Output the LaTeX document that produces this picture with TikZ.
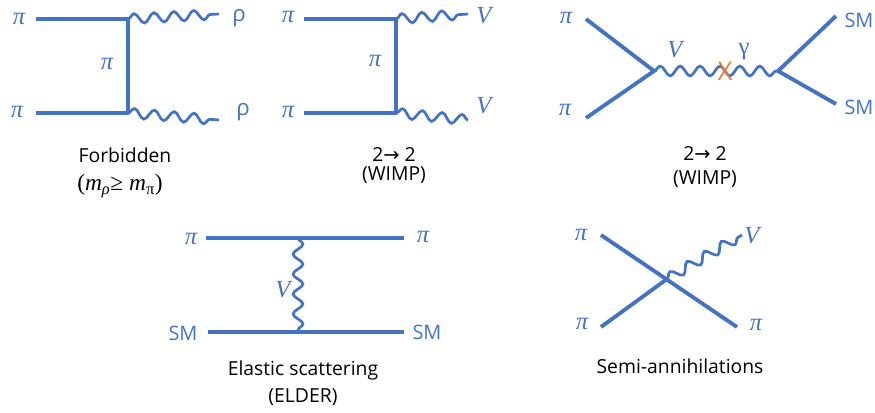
\documentclass[tikz,border=0pt]{standalone}
\usepackage{fontspec}
\setmainfont{Open Sans}
\newfontfamily\symfont{DejaVu Sans}
\newfontfamily\labfont{Liberation Serif}
\usetikzlibrary{decorations.pathmorphing}
\definecolor{LineBlue}{HTML}{4472C4}
\definecolor{CrossOrange}{HTML}{ED7D31}
\begin{document}
\begin{tikzpicture}[x=.03cm,y=-.03cm,
    fermion/.style={draw=LineBlue,line width=3.3pt},
    boson/.style={draw=LineBlue,line width=2.3pt,decorate,decoration={snake,amplitude=4.2pt,segment length=17pt}},
    partlabel/.style={text=LineBlue,font=\fontsize{17}{20}\selectfont,inner sep=0pt},
    mathlabel/.style={text=LineBlue,font=\labfont\itshape\fontsize{21}{24}\selectfont,inner sep=0pt},
    caption/.style={text=black,font=\fontsize{16.5}{20}\selectfont,inner sep=0pt}]
    \useasboundingbox (0,0) rectangle (875,412);
    % forbidden box
    \coordinate (fa) at (36,19);
    \coordinate (fb) at (36,113);
    \coordinate (fc) at (128,19);
    \coordinate (fd) at (128,113);
    \coordinate (fe) at (219,14);
    \coordinate (ff) at (219,120);
    \draw[fermion] (fa)--(fc);
    \draw[fermion] (fb)--(fd);
    \draw[fermion,line cap=round] (fc)--(fd);
    \draw[boson] (fc)--(fe);
    \draw[boson] (fd)--(ff);
    \node[mathlabel] (fl1) at (19,19) {π};
    \node[mathlabel] (fl2) at (17,112) {π};
    \node[mathlabel] (fl3) at (107,64) {π};
    \node[partlabel,font=\fontsize{19}{20}\selectfont] (fl4) at (239,18) {ρ};
    \node[partlabel,font=\fontsize{19}{20}\selectfont] (fl5) at (243,112) {ρ};
    \node[caption] (fcap1) at (125,155) {Forbidden};
    \node[caption,font=\labfont\fontsize{20}{24}\selectfont] (fcap2) at (120,186) {({\itshape m}\textsubscript{\itshape ρ}≥ {\itshape m}\textsubscript{π})};
    % wimp box
    \coordinate (wa) at (304,19);
    \coordinate (wb) at (304,113);
    \coordinate (wc) at (396,19);
    \coordinate (wd) at (396,113);
    \coordinate (we) at (468,14);
    \coordinate (wf) at (468,120);
    \draw[fermion] (wa)--(wc);
    \draw[fermion] (wb)--(wd);
    \draw[fermion,line cap=round] (wc)--(wd);
    \draw[boson] (wc)--(we);
    \draw[boson] (wd)--(wf);
    \node[mathlabel] (wl1) at (288,17) {π};
    \node[mathlabel] (wl2) at (288,112) {π};
    \node[mathlabel] (wl3) at (375,61) {π};
    \node[mathlabel] (wl4) at (484,16) {V};
    \node[mathlabel] (wl5) at (484,106) {V};
    \node[caption] (wcap1) at (394,154) {2{\symfont→} 2};
    \node[caption] (wcap2) at (394,175) {(WIMP)};
    % mixing
    \coordinate (ma) at (586,19);
    \coordinate (mb) at (586,118);
    \coordinate (mc) at (654,71);
    \coordinate (md) at (778,71);
    \coordinate (me) at (836,16);
    \coordinate (mf) at (836,104);
    \draw[fermion] (ma)--(mc)--(mb);
    \draw[fermion] (me)--(md)--(mf);
    \draw[boson] (mc)--(md);
    \node[mathlabel] (ml1) at (566,18) {π};
    \node[mathlabel] (ml2) at (565,110) {π};
    \node[mathlabel] (ml3) at (675,50) {V};
    \node[mathlabel,font=\labfont\fontsize{21}{24}\selectfont] (ml4) at (744,51) {γ};
    \node[partlabel] (ml5) at (859,20) {SM};
    \node[partlabel] (ml6) at (859,107) {SM};
    \node[text=CrossOrange,font=\fontsize{22}{24}\selectfont,inner sep=0pt] (mx) at (725,71) {X};
    \node[caption] (mcap1) at (705,153) {2{\symfont→} 2};
    \node[caption] (mcap2) at (705,179) {(WIMP)};
    % elder
    \coordinate (ea) at (206,238);
    \coordinate (eb) at (404,238);
    \coordinate (ec) at (208,332);
    \coordinate (ed) at (404,332);
    \coordinate (ee) at (298,238);
    \coordinate (ef) at (298,332);
    \draw[fermion] (ea)--(eb);
    \draw[fermion] (ec)--(ed);
    \draw[boson] (ee)--(ef);
    \node[mathlabel] (el1) at (191,239) {π};
    \node[mathlabel] (el2) at (423,237) {π};
    \node[partlabel] (el3) at (183,333) {SM};
    \node[partlabel] (el4) at (427,332) {SM};
    \node[mathlabel] (el5) at (283,290) {V};
    \node[caption] (ecap1) at (303,370) {Elastic scattering};
    \node[caption] (ecap2) at (303,397) {(ELDER)};
    % semi
    \coordinate (sa) at (601,235);
    \coordinate (sb) at (737,327);
    \coordinate (sc) at (601,327);
    \coordinate (sd) at (667,279);
    \coordinate (se) at (742,235);
    \draw[fermion] (sa)--(sb);
    \draw[fermion] (sc)--(sd);
    \draw[boson] (sd)--(se);
    \node[mathlabel] (sl1) at (581,235) {π};
    \node[mathlabel] (sl2) at (582,324) {π};
    \node[mathlabel] (sl3) at (756,325) {π};
    \node[mathlabel] (sl4) at (752,236) {V};
    \node[caption] (scap1) at (680,366) {Semi-annihilations};
\end{tikzpicture}
\end{document}
